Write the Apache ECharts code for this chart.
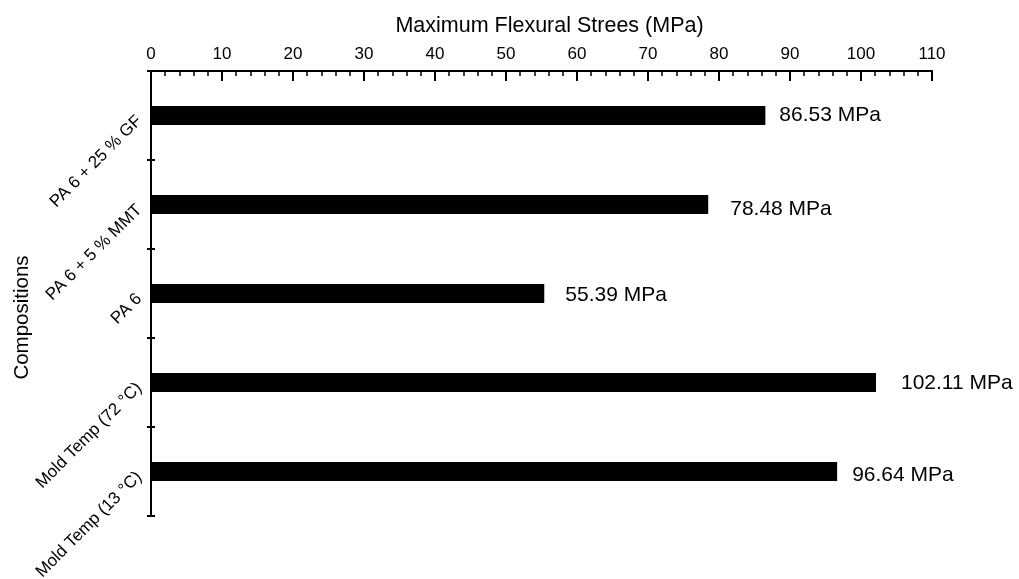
<!DOCTYPE html>
<html>
<head>
<meta charset="utf-8">
<script src="https://cdn.jsdelivr.net/npm/echarts@6/dist/echarts.min.js"></script>
<style>
  html, body { margin: 0; padding: 0; background: #fff; }
  #chart { width: 1019px; height: 579px; }
</style>
</head>
<body>
<div id="chart"></div>
<script>
// Compositions, listed top to bottom
const categories = [
  'PA 6 + 25 % GF',
  'PA 6 + 5 % MMT',
  'PA 6',
  'Mold Temp (72 °C)',
  'Mold Temp (13 °C)'
];
// Maximum flexural stress per composition (MPa)
const stressValues = [86.53, 78.48, 55.39, 102.11, 96.64];
const xTickMin = 0;
const xTickMax = 110;
const xTickStep = 10;

const FONT = '"Liberation Sans", Arial, sans-serif';

// hand-placed value labels: extra [dx, dy] per bar
const labelNudge = [[0, 0], [8, 5], [7, 2], [11, 1], [1, 4]];

const chart = echarts.init(document.getElementById('chart'));

chart.setOption({
  animation: false,
  backgroundColor: '#ffffff',
  textStyle: { fontFamily: FONT, color: '#000' },
  grid: {
    left: 151, right: 87, top: 71, bottom: 63,
    containLabel: false,
    outerBoundsMode: 'none'
  },
  xAxis: {
    type: 'value',
    position: 'top',
    min: xTickMin,
    max: xTickMax,
    interval: xTickStep,
    name: 'Maximum Flexural Strees (MPa)',
    nameLocation: 'middle',
    nameGap: 34,
    nameMoveOverlap: false,
    nameTextStyle: { fontFamily: FONT, fontSize: 21.5, color: '#000', padding: [0, 0, 0, 16] },
    axisLine: { show: true, lineStyle: { color: '#000', width: 2 } },
    axisTick: { show: true, inside: true, length: 10, lineStyle: { color: '#000', width: 2 } },
    minorTick: { show: true, splitNumber: 5, length: 5, lineStyle: { color: '#000', width: 1.5 } },
    axisLabel: { fontFamily: FONT, fontSize: 17, color: '#000', margin: 8 },
    splitLine: { show: false }
  },
  yAxis: [
    {
      type: 'category',
      data: categories,
      inverse: true,
      position: 'left',
      name: 'Compositions',
      nameLocation: 'middle',
      nameRotate: 90,
      nameGap: 118,
      nameMoveOverlap: false,
      nameTextStyle: { fontFamily: FONT, fontSize: 20.5, color: '#000', padding: [0, 48, 0, 0] },
      axisLine: { show: true, lineStyle: { color: '#000', width: 2 } },
      axisTick: { show: true, inside: false, length: 4, lineStyle: { color: '#000', width: 2 } },
      axisLabel: {
        fontFamily: FONT, fontSize: 17, color: '#000',
        rotate: 45, margin: 9, padding: [0, 4, 0, 0]
      },
      splitLine: { show: false }
    },
    {
      // inner half of the crossing category ticks
      type: 'category',
      data: categories,
      inverse: true,
      position: 'left',
      offset: 0,
      axisLine: { show: false },
      axisTick: { show: true, inside: true, length: 4, lineStyle: { color: '#000', width: 2 } },
      axisLabel: { show: false },
      splitLine: { show: false }
    }
  ],
  series: [{
    type: 'bar',
    yAxisIndex: 0,
    data: stressValues.map((v, i) => ({
      value: v,
      label: { offset: labelNudge[i] }
    })),
    barWidth: 19,
    itemStyle: { color: '#000' },
    label: {
      show: true,
      position: 'right',
      distance: 14,
      fontFamily: FONT,
      fontSize: 21,
      color: '#000',
      formatter: p => p.value.toFixed(2) + ' MPa'
    }
  }]
});
</script>
</body>
</html>
